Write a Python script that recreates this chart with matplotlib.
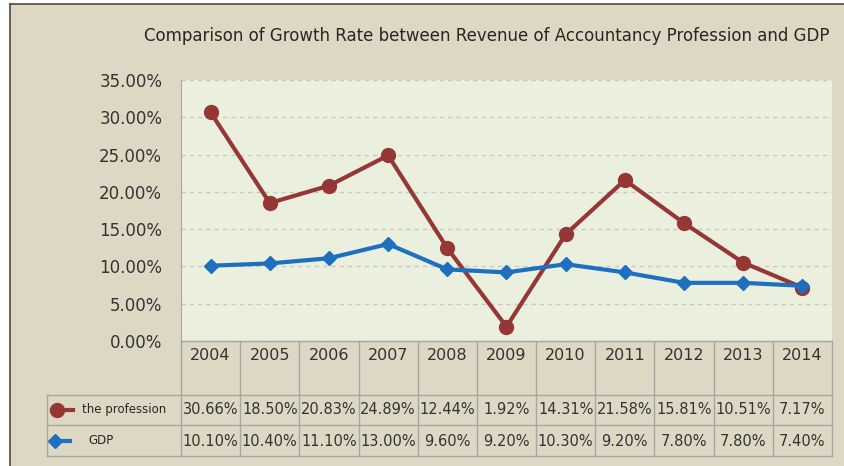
import matplotlib
matplotlib.use("Agg")
import matplotlib.pyplot as plt
from matplotlib.patches import Rectangle
from matplotlib.lines import Line2D
from matplotlib.transforms import blended_transform_factory
from matplotlib.ticker import FuncFormatter, MultipleLocator

years = ["2004", "2005", "2006", "2007", "2008", "2009", "2010", "2011", "2012", "2013", "2014"]
profession = [30.66, 18.50, 20.83, 24.89, 12.44, 1.92, 14.31, 21.58, 15.81, 10.51, 7.17]
gdp = [10.10, 10.40, 11.10, 13.00, 9.60, 9.20, 10.30, 9.20, 7.80, 7.80, 7.40]
series_names = ["the profession", "GDP"]
title = "Comparison of Growth Rate between Revenue of Accountancy Profession and GDP"

RED = "#953735"
BLUE = "#1f6fc0"
BG = "#ddd8c4"
PLOT_BG = "#eaf0dd"
GRID = "#a6a6a6"
TXT = "#333333"

W, H = 845, 466
plt.rcParams['font.family'] = ['DejaVu Sans']
fig = plt.figure(figsize=(W / 100, H / 100), dpi=100)
fig.patch.set_facecolor("white")

def fx(x):
    return x / W

def fy(y):
    return 1 - y / H

# chart background frame
fig.add_artist(Rectangle((fx(10), 0), fx(W - 10), fy(4), transform=fig.transFigure,
                         facecolor=BG, edgecolor="none", zorder=0))
fig.add_artist(Line2D([fx(10), fx(10)], [0, fy(4)], transform=fig.transFigure, color="#4d4a3c", lw=1.2))
fig.add_artist(Line2D([fx(10), 1], [fy(4), fy(4)], transform=fig.transFigure, color="#4d4a3c", lw=1.2))

L, R, T, B = 181, 832, 80, 341
ax = fig.add_axes([fx(L), fy(B), fx(R - L), (B - T) / H])
ax.set_facecolor(PLOT_BG)
x = list(range(len(years)))
ax.plot(x, [v / 100 for v in profession], color=RED, lw=3, marker="o", ms=10, zorder=3)
ax.plot(x, [v / 100 for v in gdp], color=BLUE, lw=3, marker="D", ms=7, zorder=3)
ax.set_xlim(-0.5, len(years) - 0.5)
ax.set_ylim(0, 0.35)
ax.yaxis.set_major_locator(MultipleLocator(0.05))
ax.yaxis.set_major_formatter(FuncFormatter(lambda v, p: f"{v * 100:.2f}%"))
ax.tick_params(axis="y", length=0, labelsize=12, labelcolor=TXT, pad=13.5)
ax.set_xticks([])
for s in ["top", "right", "bottom"]:
    ax.spines[s].set_visible(False)
ax.spines["left"].set_color(GRID)
ax.grid(axis="y", color="#c8c8c8", ls=(0, (3, 3)), lw=1)

fig.text(fx(487), fy(36), title, ha="center", va="center", fontsize=12, color="#262626")

# data table
tr = blended_transform_factory(ax.transData, fig.transFigure)
tf = fig.transFigure
lc = GRID
lw = 1
n = len(years)
y_rows = [B, 395, 425, 456]
for i in range(n + 1):
    fig.add_artist(Line2D([i - 0.5, i - 0.5], [fy(B), fy(456)], transform=tr, color=lc, lw=lw))
for yy in y_rows[1:]:
    fig.add_artist(Line2D([fx(47), fx(R)], [fy(yy), fy(yy)], transform=tf, color=lc, lw=lw))
fig.add_artist(Line2D([fx(L), fx(R)], [fy(B), fy(B)], transform=tf, color=lc, lw=lw))
fig.add_artist(Line2D([fx(47), fx(47)], [fy(395), fy(456)], transform=tf, color=lc, lw=lw))

for i, yr in enumerate(years):
    fig.text(i, fy(356), yr, transform=tr, ha="center", va="center", fontsize=11.5, color=TXT)
    fig.text(i, fy(410), f"{profession[i]:.2f}%", transform=tr, ha="center", va="center",
             fontsize=10.5, color=TXT)
    fig.text(i, fy(441), f"{gdp[i]:.2f}%", transform=tr, ha="center", va="center",
             fontsize=10.5, color=TXT)

# legend keys
fig.add_artist(Line2D([fx(52), fx(73)], [fy(410), fy(410)], transform=tf, color=RED, lw=3))
fig.add_artist(Line2D([fx(57)], [fy(410)], transform=tf, color=RED, marker="o", ms=10))
fig.add_artist(Line2D([fx(52), fx(70)], [fy(441), fy(441)], transform=tf, color=BLUE, lw=3))
fig.add_artist(Line2D([fx(55)], [fy(441)], transform=tf, color=BLUE, marker="D", ms=7))
fig.text(fx(82), fy(410), series_names[0], ha="left", va="center", fontsize=8.5, color="#262626")
fig.text(fx(88), fy(441), series_names[1], ha="left", va="center", fontsize=8.5, color="#262626")

fig.savefig("out.png", dpi=100, facecolor=fig.get_facecolor())
